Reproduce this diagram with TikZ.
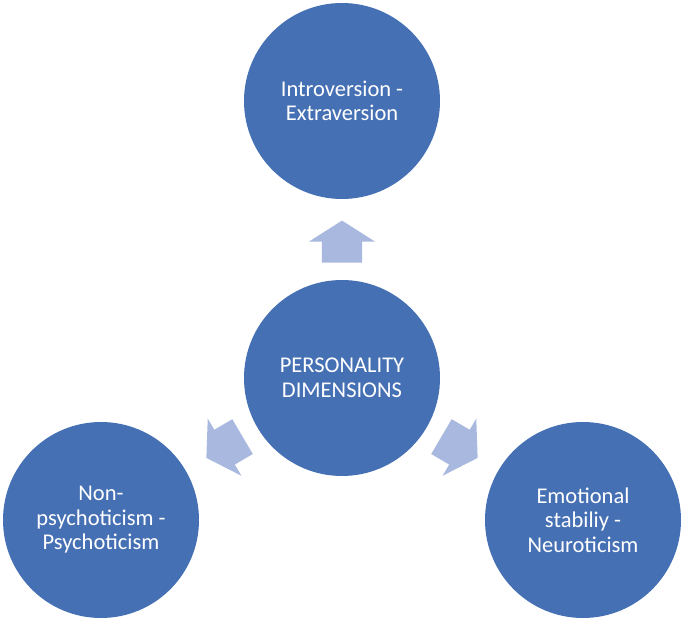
\documentclass[tikz,border=0pt]{standalone}
\usepackage{fontspec}
\setmainfont{Carlito}
\usetikzlibrary{shapes.arrows,calc}
\definecolor{dimblue}{HTML}{4670B4}
\definecolor{arrowblue}{HTML}{A9B8DE}
\begin{document}
\begin{tikzpicture}[x=1pt,y=1pt,
  dimcircle/.style={circle,fill=dimblue,minimum size=196pt,inner sep=0pt,
    text=white,align=center,font=\fontsize{22.5}{24.5}\selectfont},
  dimarrow/.style={single arrow,fill=arrowblue,draw=none,inner sep=0pt,
    text height=20pt,text depth=20pt,text width=0pt,
    minimum height=42pt,
    single arrow head extend=13pt,single arrow tip angle=115}]
\useasboundingbox (0,0) rectangle (685,619);

\node[dimcircle] (core) at (342,241) {PERSONALITY\\DIMENSIONS};
\node[dimcircle] (extra) at (342,518) {Introversion -\\Extraversion};
\node[dimcircle] (psych) at (101,99) {Non-\\psychoticism -\\Psychoticism};
\node[dimcircle] (neuro) at (583,99) {Emotional\\stabiliy -\\Neuroticism};

\node[dimarrow,rotate=90] (toextra) at ($(core)+(90:130)$) {};
\node[dimarrow,rotate=210.5] (topsych) at ($(core)+(210.5:130)$) {};
\node[dimarrow,rotate=-30.5] (toneuro) at ($(core)+(-30.5:130)$) {};
\end{tikzpicture}
\end{document}
